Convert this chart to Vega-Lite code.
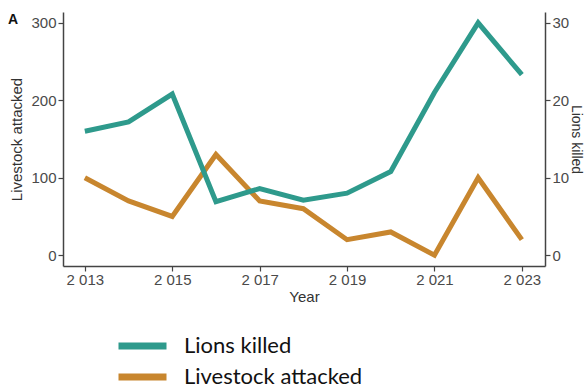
{
  "$schema": "https://vega.github.io/schema/vega-lite/v6.json",
  "width": 482,
  "height": 254,
  "autosize": {"type": "none"},
  "padding": {"left": 63, "top": 12, "right": 40, "bottom": 123},
  "background": "white",
  "title": {"text": "A", "anchor": "start", "frame": "group", "orient": "top", "offset": 0, "dx": -55, "dy": 26, "baseline": "alphabetic", "fontSize": 14, "fontWeight": "bold", "font": "Liberation Sans", "color": "#111"},
  "config": {
    "view": {"stroke": null},
    "axis": {"grid": false, "domainColor": "#444", "tickColor": "#444", "domainWidth": 1.5, "tickWidth": 1.2, "tickSize": 5, "labelFont": "Liberation Sans", "labelFontSize": 15, "labelColor": "#4a4a4a", "titleFont": "Liberation Sans", "titleFontSize": 15, "titleFontWeight": "normal", "titleColor": "#333"}
  },
  "data": {"values": [
    {"year": 2013, "series": "Livestock attacked", "value": 100},
    {"year": 2014, "series": "Livestock attacked", "value": 70},
    {"year": 2015, "series": "Livestock attacked", "value": 50},
    {"year": 2016, "series": "Livestock attacked", "value": 130},
    {"year": 2017, "series": "Livestock attacked", "value": 70},
    {"year": 2018, "series": "Livestock attacked", "value": 60},
    {"year": 2019, "series": "Livestock attacked", "value": 20},
    {"year": 2020, "series": "Livestock attacked", "value": 30},
    {"year": 2021, "series": "Livestock attacked", "value": 0},
    {"year": 2022, "series": "Livestock attacked", "value": 100},
    {"year": 2023, "series": "Livestock attacked", "value": 20},
    {"year": 2013, "series": "Lions killed", "value": 16},
    {"year": 2014, "series": "Lions killed", "value": 17.2},
    {"year": 2015, "series": "Lions killed", "value": 20.8},
    {"year": 2016, "series": "Lions killed", "value": 6.9},
    {"year": 2017, "series": "Lions killed", "value": 8.6},
    {"year": 2018, "series": "Lions killed", "value": 7.1},
    {"year": 2019, "series": "Lions killed", "value": 8},
    {"year": 2020, "series": "Lions killed", "value": 10.8},
    {"year": 2021, "series": "Lions killed", "value": 21},
    {"year": 2022, "series": "Lions killed", "value": 30},
    {"year": 2023, "series": "Lions killed", "value": 23.3}
  ]},
  "encoding": {
    "x": {"field": "year", "type": "quantitative", "scale": {"domain": [2012.5, 2023.53], "nice": false, "zero": false},
      "axis": {"title": "Year", "values": [2013, 2015, 2017, 2019, 2021, 2023], "format": "d", "labelExpr": "substring(datum.label,0,1) + ' ' + substring(datum.label,1)", "titlePadding": 2, "labelPadding": 1}},
    "color": {"field": "series", "type": "nominal", "scale": {"domain": ["Lions killed", "Livestock attacked"], "range": ["#2e9a8c", "#c8862e"]},
      "legend": {"title": null, "orient": "none", "legendX": 52, "legendY": 323, "symbolType": "stroke", "symbolStrokeWidth": 7, "symbolSize": 2304, "clipHeight": 22, "labelFont": "Lato", "labelFontSize": 22, "labelColor": "#111", "labelLimit": 400, "labelOffset": 14, "rowPadding": 9}}
  },
  "layer": [
    {
      "transform": [{"filter": "datum.series == 'Livestock attacked'"}],
      "mark": {"type": "line", "strokeWidth": 5},
      "encoding": {"y": {"field": "value", "type": "quantitative", "scale": {"domain": [-14, 314], "nice": false, "zero": false},
        "axis": {"title": "Livestock attacked", "values": [0, 100, 200, 300], "orient": "left", "titlePadding": 6}}}
    },
    {
      "transform": [{"filter": "datum.series == 'Lions killed'"}],
      "mark": {"type": "line", "strokeWidth": 5},
      "encoding": {"y": {"field": "value", "type": "quantitative", "scale": {"domain": [-1.4, 31.4], "nice": false, "zero": false},
        "axis": {"title": "Lions killed", "values": [0, 10, 20, 30], "orient": "right", "titlePadding": 0, "titleFontSize": 14}}}
    }
  ],
  "resolve": {"scale": {"y": "independent"}}
}
